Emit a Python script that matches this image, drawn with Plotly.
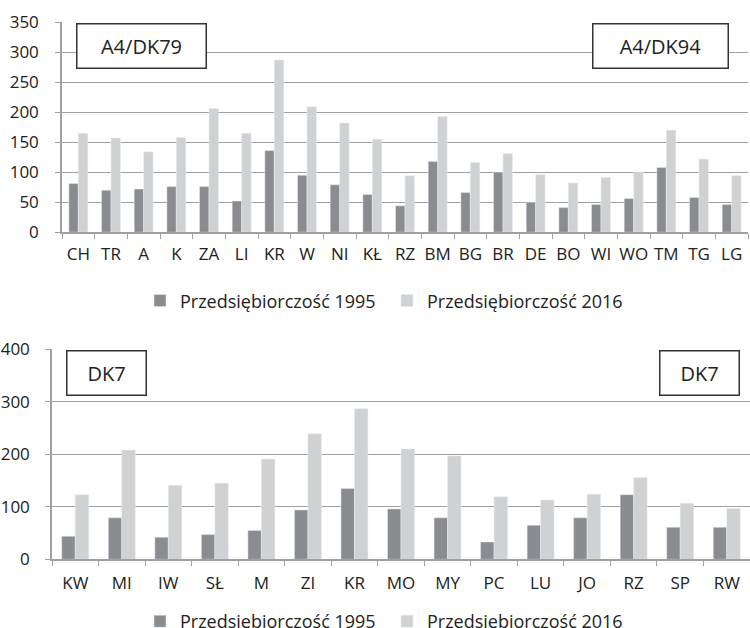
import plotly.graph_objects as go

# Top chart data (A4/DK79 ... A4/DK94)
top_categories = ["CH", "TR", "A", "K", "ZA", "LI", "KR", "W", "NI", "KŁ", "RZ",
                  "BM", "BG", "BR", "DE", "BO", "WI", "WO", "TM", "TG", "LG"]
top_1995 = [81, 70, 72, 76, 76, 52, 136, 95, 79, 63, 44,
            118, 66, 100, 50, 41, 46, 56, 108, 58, 46]
top_2016 = [165, 157, 134, 158, 206, 165, 287, 209, 182, 155, 94,
            193, 116, 131, 96, 82, 91, 100, 170, 122, 94]

# Bottom chart data (DK7)
bot_categories = ["KW", "MI", "IW", "SŁ", "M", "ZI", "KR", "MO", "MY", "PC",
                  "LU", "JO", "RZ", "SP", "RW"]
bot_1995 = [44, 79, 42, 47, 55, 94, 135, 96, 79, 33, 65, 79, 123, 61, 61]
bot_2016 = [123, 208, 141, 145, 191, 239, 287, 210, 197, 119, 113, 124, 156, 107, 97]

series_names = ["Przedsiębiorczość 1995", "Przedsiębiorczość 2016"]
dark = "#8b8c8f"
light = "#d0d1d3"
grid = "#a0a0a0"
txt = "#222222"
FONT = "Open Sans"

W, H = 750, 628
FIG_H = 640

fig = go.Figure()
fig.add_trace(go.Bar(x=top_categories, y=top_1995, name=series_names[0], marker_color=dark,
                     xaxis="x", yaxis="y", legend="legend"))
fig.add_trace(go.Bar(x=top_categories, y=top_2016, name=series_names[1], marker_color=light,
                     xaxis="x", yaxis="y", legend="legend"))
fig.add_trace(go.Bar(x=bot_categories, y=bot_1995, name=series_names[0], marker_color=dark,
                     xaxis="x2", yaxis="y2", legend="legend2"))
fig.add_trace(go.Bar(x=bot_categories, y=bot_2016, name=series_names[1], marker_color=light,
                     xaxis="x2", yaxis="y2", legend="legend2"))

def px_x(p):
    return p / W

def px_y(p):
    return 1 - p / H

xcommon = dict(showline=True, linecolor=grid, linewidth=1.5, ticks="outside",
               tickson="boundaries", ticklen=5, tickcolor=grid, showgrid=False,
               tickangle=0, automargin=False,
               tickfont=dict(family=FONT, size=17, color=txt), fixedrange=True)
ycommon = dict(showline=True, linecolor=grid, linewidth=1.5, ticks="outside",
               ticklen=5, tickcolor=grid, showgrid=True, gridcolor=grid, gridwidth=1.2,
               tickfont=dict(family=FONT, size=17, color=txt), zeroline=False,
               automargin=False, fixedrange=True)

fig.update_layout(
    width=W, height=FIG_H, autosize=False,
    margin=dict(l=0, r=0, t=0, b=0),
    paper_bgcolor="white", plot_bgcolor="white",
    barmode="group", bargap=0.42, bargroupgap=0,
    font=dict(family=FONT, color=txt),
    xaxis=dict(domain=[px_x(62), px_x(748)], anchor="y", ticklabelstandoff=6, **xcommon),
    yaxis=dict(domain=[px_y(230), px_y(22)], anchor="x", range=[0, 350], dtick=50,
               ticklabelstandoff=13, **ycommon),
    xaxis2=dict(domain=[px_x(52), 1.0], anchor="y2", ticklabelstandoff=8, **xcommon),
    yaxis2=dict(domain=[px_y(554), px_y(346)], anchor="x2", range=[0, 400], dtick=100,
                ticklabelstandoff=12, **ycommon),
    legend=dict(orientation="h", x=px_x(140), y=px_y(298), yanchor="middle", xanchor="left",
                font=dict(family=FONT, size=18, color=txt), entrywidth=202,
                bgcolor="rgba(0,0,0,0)"),
    legend2=dict(orientation="h", x=px_x(140), y=px_y(616), yanchor="middle", xanchor="left",
                 font=dict(family=FONT, size=18, color=txt), entrywidth=202,
                 bgcolor="rgba(0,0,0,0)"),
)

boxes = [("A4/DK79", 141, 46, 126), ("A4/DK94", 660, 46, 132),
         ("DK7", 106.5, 369, 76), ("DK7", 699, 369, 76)]
for label, cx, cy, bw in boxes:
    fig.add_annotation(text=label, xref="paper", yref="paper", x=px_x(cx), y=px_y(cy),
                       xanchor="center", yanchor="middle", showarrow=False,
                       width=bw, height=41, bgcolor="white", bordercolor="#333333",
                       borderwidth=1.5, font=dict(family=FONT, size=20, color=txt))

post = (
    "document.documentElement.style.margin='0';"
    "document.documentElement.style.overflow='hidden';"
    "document.body.style.margin='0';"
    "document.body.style.overflow='hidden';"
    "var gd=document.getElementById('{plot_id}');"
    "gd.style.position='fixed';gd.style.left='0px';gd.style.top='0px';"
)

fig.write_html("out.html",
               config={"displayModeBar": False, "responsive": False},
               post_script=post)
